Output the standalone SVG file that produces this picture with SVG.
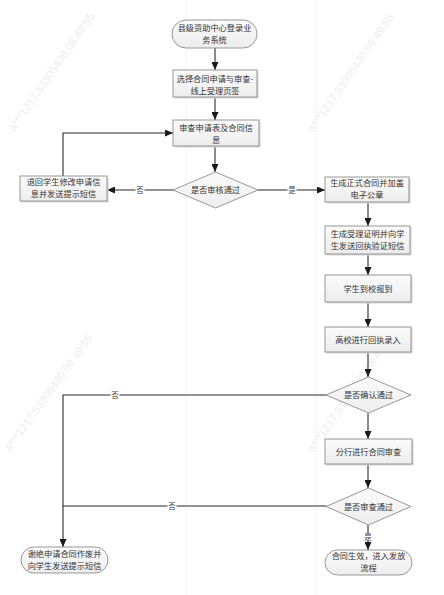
<svg xmlns="http://www.w3.org/2000/svg" width="444" height="595" viewBox="0 0 444 595">
<style>
.box{fill:url(#g);stroke:#8c8c8c;stroke-width:0.9}
.sh{fill:#d8d8d8}
.t{font-family:"Noto Sans CJK SC","Liberation Serif",sans-serif;font-size:8.2px;fill:#333;text-anchor:middle}
.lbl{font-family:"Noto Sans CJK SC","Liberation Serif",sans-serif;font-size:7.5px;fill:#444;text-anchor:middle}
.c{fill:none;stroke:#2a2a2a;stroke-width:1.1}
.wm{font-family:"Liberation Sans",sans-serif;font-size:11px;fill:#ececf2}
.seam{stroke:#f2f2f5;stroke-width:1}
</style>
<defs>
<linearGradient id="g" x1="0" y1="0" x2="0" y2="1">
<stop offset="0" stop-color="#fbfbfb"/>
<stop offset="1" stop-color="#ededed"/>
</linearGradient>
<marker id="a" markerUnits="userSpaceOnUse" markerWidth="8" markerHeight="7" refX="8" refY="3.5" orient="auto">
<path d="M0,0 L8,3.5 L0,7 z" fill="#1a1a1a"/>
</marker>
</defs>
<rect width="444" height="595" fill="#ffffff"/>
<line class="seam" x1="186" y1="0" x2="186" y2="595"/>
<line class="seam" x1="316" y1="0" x2="316" y2="595"/>
<g id="watermarks">
<text class="wm" transform="translate(14,132) rotate(-55)">a***1217,53305430,08:49:55</text>
<text class="wm" transform="translate(313,133) rotate(-55)">a***1217,53305430,08:49:55</text>
<text class="wm" transform="translate(10,452) rotate(-54)">a***1217,53305430,08:49:55</text>
<text class="wm" transform="translate(313,453) rotate(-55)">a***1217,53305430,08:49:55</text>
</g>
<g id="connectors">
<path class="c" d="M215,48 V70" marker-end="url(#a)"/>
<path class="c" d="M215,97 V120" marker-end="url(#a)"/>
<path class="c" d="M215,146 V172" marker-end="url(#a)"/>
<path class="c" d="M173,190 H107" marker-end="url(#a)"/>
<path class="c" d="M63,176 V133 H173" marker-end="url(#a)"/>
<path class="c" d="M258,190 H325" marker-end="url(#a)"/>
<path class="c" d="M368,202 V226" marker-end="url(#a)"/>
<path class="c" d="M368,254 V275" marker-end="url(#a)"/>
<path class="c" d="M368,302 V327" marker-end="url(#a)"/>
<path class="c" d="M368,352 V377" marker-end="url(#a)"/>
<path class="c" d="M368,413 V439" marker-end="url(#a)"/>
<path class="c" d="M368,464 V488" marker-end="url(#a)"/>
<path class="c" d="M368,525 V550" marker-end="url(#a)"/>
<path class="c" d="M326,395 H63 V547" marker-end="url(#a)"/>
<path class="c" d="M326,506 H63"/>
<rect x="135.5" y="186" width="9" height="8" fill="#fff"/>
<text class="lbl" x="140" y="192.8">否</text>
<rect x="287.5" y="186" width="9" height="8" fill="#fff"/>
<text class="lbl" x="292" y="192.8">是</text>
<rect x="110.5" y="391" width="9" height="8" fill="#fff"/>
<text class="lbl" x="115" y="397.8">否</text>
<rect x="167.5" y="502" width="9" height="8" fill="#fff"/>
<text class="lbl" x="172" y="508.8">否</text>
<rect x="363.5" y="533" width="9" height="8" fill="#fff"/>
<text class="lbl" x="368" y="539.8">是</text>
</g>
<g id="n1">
<rect class="box" x="172" y="20" width="85" height="28" rx="14"/>
<text class="t" x="214.5" y="31">县级资助中心登录业</text>
<text class="t" x="214.5" y="43">务系统</text>
</g>
<g id="n2">
<rect class="sh" x="174.5" y="71.5" width="84" height="27"/>
<rect class="box" x="173" y="70" width="84" height="27"/>
<text class="t" x="215" y="81.5">选择合同申请与审查-</text>
<text class="t" x="215" y="93.5">线上受理页签</text>
</g>
<g id="n3">
<rect class="sh" x="174.5" y="121.5" width="86" height="26"/>
<rect class="box" x="173" y="120" width="86" height="26"/>
<text class="t" x="216" y="130.5">审查申请表及合同信</text>
<text class="t" x="216" y="142.5">息</text>
</g>
<g id="d1">
<polygon class="box" points="215.5,172 258,190 215.5,208 173,190"/>
<text class="t" x="215.5" y="193">是否审核通过</text>
</g>
<g id="n4">
<rect class="sh" x="21.5" y="177.5" width="87" height="25"/>
<rect class="box" x="20" y="176" width="87" height="25"/>
<text class="t" x="63.5" y="185">退回学生修改申请信</text>
<text class="t" x="63.5" y="197">息并发送提示短信</text>
</g>
<g id="n5">
<rect class="sh" x="326.5" y="178.5" width="84" height="25"/>
<rect class="box" x="325" y="177" width="84" height="25"/>
<text class="t" x="367" y="186">生成正式合同并加盖</text>
<text class="t" x="367" y="198">电子公章</text>
</g>
<g id="n6">
<rect class="sh" x="326.5" y="227.5" width="85" height="28"/>
<rect class="box" x="325" y="226" width="85" height="28"/>
<text class="t" x="367.5" y="236.5">生成受理证明并向学</text>
<text class="t" x="367.5" y="248.5">生发送回执验证短信</text>
</g>
<g id="n7">
<rect class="sh" x="326.5" y="276.5" width="86" height="27"/>
<rect class="box" x="325" y="275" width="86" height="27"/>
<text class="t" x="368" y="291.5">学生到校报到</text>
</g>
<g id="n8">
<rect class="sh" x="326.5" y="328.5" width="86" height="25"/>
<rect class="box" x="325" y="327" width="86" height="25"/>
<text class="t" x="368" y="342.5">高校进行回执录入</text>
</g>
<g id="d2">
<polygon class="box" points="368.5,377 411,395 368.5,413 326,395"/>
<text class="t" x="368.5" y="398">是否确认通过</text>
</g>
<g id="n9">
<rect class="sh" x="326.5" y="440.5" width="87" height="25"/>
<rect class="box" x="325" y="439" width="87" height="25"/>
<text class="t" x="368.5" y="454.5">分行进行合同审查</text>
</g>
<g id="d3">
<polygon class="box" points="368.5,488 411,506.5 368.5,525 326,506.5"/>
<text class="t" x="368.5" y="509.5">是否审查通过</text>
</g>
<g id="n10">
<rect class="box" x="21" y="547" width="87" height="26" rx="13"/>
<text class="t" x="64.5" y="556.5">谢绝申请合同作废并</text>
<text class="t" x="64.5" y="568.5">向学生发送提示短信</text>
</g>
<g id="n11">
<rect class="box" x="325" y="550" width="87" height="25" rx="12.5"/>
<text class="t" x="368.5" y="559">合同生效，进入发放</text>
<text class="t" x="368.5" y="571">流程</text>
</g>
</svg>
